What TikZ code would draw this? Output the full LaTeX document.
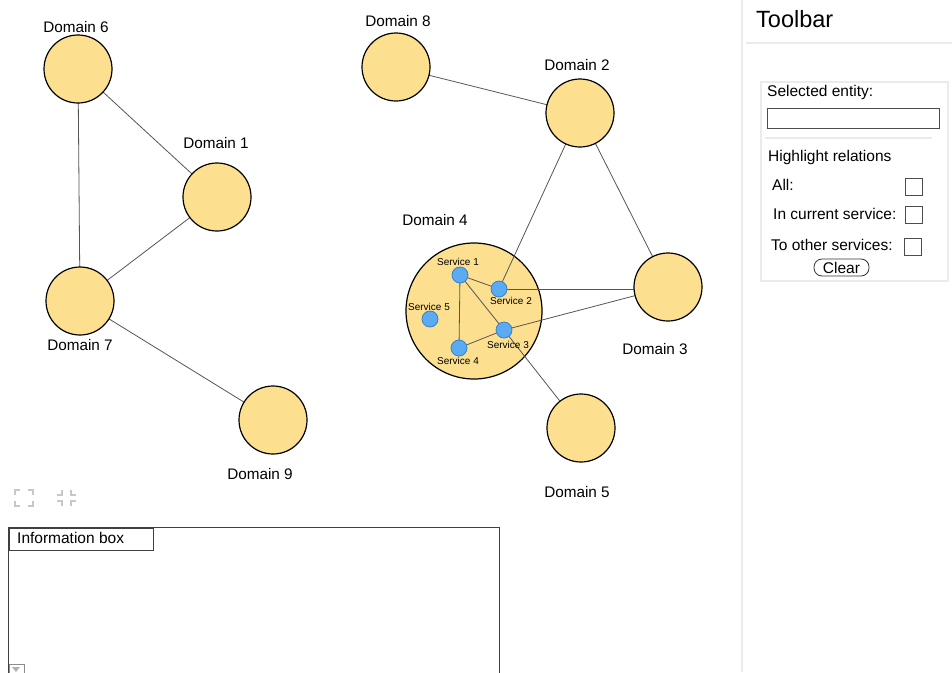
\documentclass[tikz,border=0pt]{standalone}
\usepackage{fontspec}
\setmainfont{Liberation Sans}
\usetikzlibrary{calc}
\pgfdeclarelayer{back}
\pgfdeclarelayer{mid}
\pgfsetlayers{back,mid,main}
\definecolor{domfill}{HTML}{FDE08F}
\definecolor{svcfill}{HTML}{5AAAF4}
\definecolor{svcline}{HTML}{3B80C4}
\definecolor{edgecol}{HTML}{555555}
\definecolor{panelgray}{HTML}{EBEBEB}
\definecolor{icongray}{HTML}{C8C8C8}
\tikzset{
  x=1pt, y=-1pt,
  domnode/.style={circle, draw=black, line width=1.2pt, fill=domfill, minimum size=68pt, inner sep=0pt},
  bigdomnode/.style={circle, draw=black, line width=1.2pt, fill=domfill, minimum size=136pt, inner sep=0pt},
  svcnode/.style={circle, draw=svcline, line width=0.8pt, fill=svcfill, minimum size=16pt, inner sep=0pt},
  dlabel/.style={font=\fontsize{15.3}{18}\selectfont, inner sep=0pt},
  slabel/.style={font=\fontsize{10}{12}\selectfont, inner sep=0pt},
  link/.style={draw=edgecol, line width=0.8pt},
  uitext/.style={font=\fontsize{15.5}{18}\selectfont, inner sep=0pt, anchor=west},
  checkbox/.style={draw=black!70, line width=0.8pt, fill=white, minimum size=17pt, inner sep=0pt},
  panelline/.style={draw=panelgray, line width=2.5pt},
  iconline/.style={draw=icongray, line width=2.5pt},
}
\begin{document}
\begin{tikzpicture}
\useasboundingbox (0,0) rectangle (952,672);

% page ground and Domain 4, underneath all connectors
\begin{pgfonlayer}{back}
  \fill[white] (0,0) rectangle (952,672);
  \node[bigdomnode] (d4) at (474,311) {};
\end{pgfonlayer}

% domains
\node[domnode] (d6) at (78,69) {};
\node[domnode] (d1) at (217,197) {};
\node[domnode] (d7) at (80,301) {};
\node[domnode] (d9) at (273,420) {};
\node[domnode] (d8) at (396,67) {};
\node[domnode] (d2) at (580,113) {};
\node[domnode] (d3) at (668,287) {};
\node[domnode] (d5) at (581,428) {};

% services inside Domain 4
\node[svcnode] (s1) at (460,275) {};
\node[svcnode] (s2) at (499,289) {};
\node[svcnode] (s3) at (504,330) {};
\node[svcnode] (s4) at (459,348) {};
\node[svcnode] (s5) at (430,319) {};

% labels
\node[dlabel] (l6) at (76,27) {Domain 6};
\node[dlabel] (l1) at (216,143) {Domain 1};
\node[dlabel] (l7) at (80,345) {Domain 7};
\node[dlabel] (l9) at (260,474) {Domain 9};
\node[dlabel] (l8) at (398,21) {Domain 8};
\node[dlabel] (l2) at (577,65) {Domain 2};
\node[dlabel] (l3) at (655,349) {Domain 3};
\node[dlabel] (l5) at (577,492) {Domain 5};
\node[dlabel] (l4) at (435,220) {Domain 4};
\node[slabel] (ls1) at (458,262) {Service 1};
\node[slabel] (ls2) at (511,301) {Service 2};
\node[slabel] (ls3) at (508,345) {Service 3};
\node[slabel] (ls4) at (458,361) {Service 4};
\node[slabel] (ls5) at (429,307) {Service 5};

% connectors
\begin{pgfonlayer}{mid}
  \draw[link] (d6.center) -- (d1.center);
  \draw[link] (d6.center) -- (d7.center);
  \draw[link] (d1.center) -- (d7.center);
  \draw[link] (d7.center) -- (d9.center);
  \draw[link] (d8.center) -- (d2.center);
  \draw[link] (d2.center) -- (d3.center);
  \draw[link] (d2.center) -- (s2.center);
  \draw[link] (s2.center) -- (d3.center |- s2.center);
  \draw[link] (s3.center) -- (d3.center);
  \draw[link] (s3.center) -- (d5.center);
  \draw[link] (s1.center) -- (s2.center);
  \draw[link] (s1.center) -- (s3.center);
  \draw[link] (s1.center) -- (s4.center);
  \draw[link] (s4.center) -- (s3.center);
\end{pgfonlayer}

% zoom controls
\draw[iconline] (15,495) -- (15,490) -- (20,490);
\draw[iconline] (28,490) -- (33,490) -- (33,495);
\draw[iconline] (15,501) -- (15,506) -- (20,506);
\draw[iconline] (28,506) -- (33,506) -- (33,501);
\draw[iconline] (57,495) -- (62,495) -- (62,490);
\draw[iconline] (71,490) -- (71,495) -- (76,495);
\draw[iconline] (57,501) -- (62,501) -- (62,506);
\draw[iconline] (71,506) -- (71,501) -- (76,501);

% information box
\draw[black!75, line width=0.9pt] (8.5,680) -- (8.5,527.5) -- (499.5,527.5) -- (499.5,680);
\node[draw=black!75, line width=0.9pt, minimum width=144pt, minimum height=22pt, inner sep=0pt, anchor=north west] (infotab) at (8.5,527.5) {};
\node[uitext] (infotitle) at (17,538) {Information box};
\node[draw=black!45, line width=0.8pt, fill=white, minimum width=15pt, minimum height=14pt, inner sep=0pt, anchor=north west] (scrollbtn) at (8.5,663.5) {};
\fill[black!30] (12,667) -- (20,667) -- (16,672) -- cycle;

% toolbar panel
\draw[panelline] (742,0) -- (742,672);
\node[font=\fontsize{23.5}{28}\selectfont, inner sep=0pt, anchor=west] (tbtitle) at (756,19) {Toolbar};
\draw[panelline] (746,43) -- (952,43);
\node[draw=panelgray, line width=2pt, minimum width=187pt, minimum height=199pt, inner sep=0pt, anchor=north west] (tbbox) at (760,81) {};
\node[uitext] (selent) at (767,92) {Selected entity:};
\node[draw=black!70, line width=0.9pt, minimum width=172pt, minimum height=20pt, inner sep=0pt, anchor=north west] (selinput) at (766.5,107.5) {};
\draw[panelline, line width=2pt] (765,138) -- (932,138);
\node[uitext] (hl) at (768,157) {Highlight relations};
\node[uitext] (hlall) at (772,185) {All:};
\node[checkbox] (cball) at (913.5,186.5) {};
\node[uitext] (hlcur) at (773,214) {In current service:};
\node[checkbox] (cbcur) at (914,214.5) {};
\node[uitext] (hloth) at (771,245) {To other services:};
\node[checkbox] (cboth) at (913,246.5) {};
\node[draw=black!80, line width=0.8pt, rounded corners=8pt, minimum width=55pt, minimum height=17pt, inner sep=0pt, font=\fontsize{15.5}{18}\selectfont] (clearbtn) at (841.5,267.5) {Clear};
\end{tikzpicture}
\end{document}
